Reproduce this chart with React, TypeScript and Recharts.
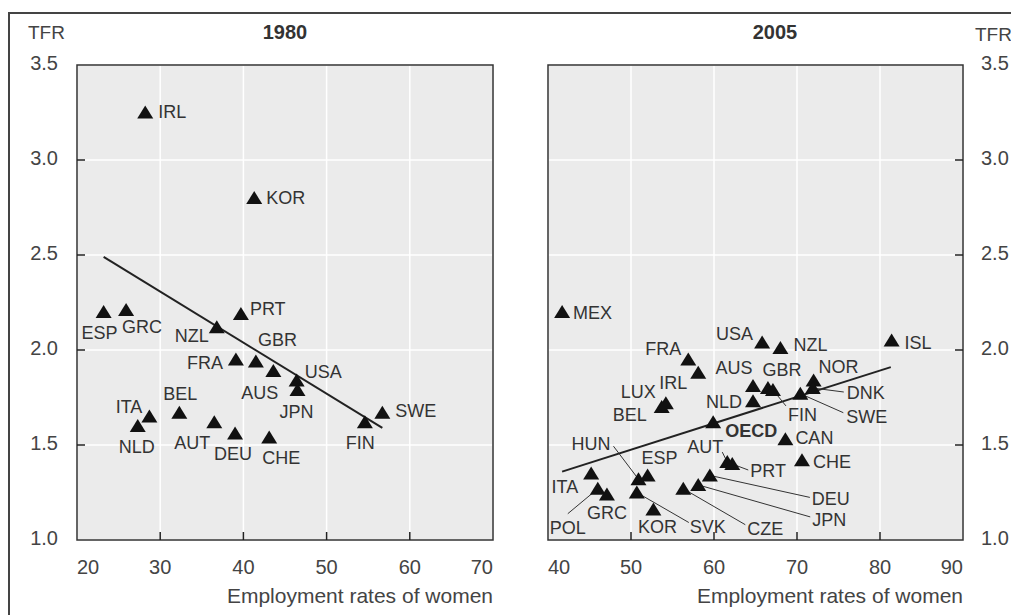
import { ScatterChart, Scatter, XAxis, YAxis, CartesianGrid, ReferenceArea, ReferenceLine } from 'recharts'

const FONT = '"Liberation Sans", Arial, sans-serif'

// 1980 panel
const codes1980 = ['IRL', 'KOR', 'ESP', 'GRC', 'NZL', 'PRT', 'GBR', 'FRA', 'AUS', 'USA', 'JPN', 'SWE', 'FIN', 'ITA', 'NLD', 'BEL', 'AUT', 'DEU', 'CHE']
const emp1980 = [28.2, 41.3, 23.2, 25.9, 36.8, 39.7, 41.5, 39.1, 43.6, 46.4, 46.5, 56.7, 54.6, 28.7, 27.3, 32.3, 36.5, 39.0, 43.1]
const tfr1980 = [3.25, 2.8, 2.2, 2.21, 2.12, 2.19, 1.94, 1.95, 1.89, 1.84, 1.79, 1.67, 1.62, 1.65, 1.6, 1.67, 1.62, 1.56, 1.54]
const trendX1980 = [23.2, 56.7]
const trendY1980 = [2.49, 1.59]

// 2005 panel
const codes2005 = ['MEX', 'USA', 'NZL', 'ISL', 'FRA', 'IRL', 'NOR', 'AUS', 'GBR', 'FIN', 'DNK', 'SWE', 'NLD', 'LUX', 'BEL', 'OECD', 'CAN', 'CHE', 'AUT', 'PRT', 'HUN', 'ESP', 'ITA', 'POL', 'GRC', 'KOR', 'SVK', 'CZE', 'JPN', 'DEU']
const emp2005 = [41.7, 65.8, 68.0, 81.4, 56.9, 58.1, 72.0, 64.7, 66.5, 67.1, 71.9, 70.4, 64.7, 53.7, 54.2, 59.9, 68.6, 70.6, 61.6, 62.2, 50.9, 52.0, 45.2, 46.0, 47.1, 52.7, 50.7, 56.3, 58.1, 59.5]
const tfr2005 = [2.2, 2.04, 2.01, 2.05, 1.95, 1.88, 1.84, 1.81, 1.8, 1.79, 1.8, 1.77, 1.73, 1.7, 1.72, 1.62, 1.53, 1.42, 1.41, 1.4, 1.32, 1.34, 1.35, 1.27, 1.24, 1.16, 1.25, 1.27, 1.29, 1.34]
const trendX2005 = [41.7, 81.3]
const trendY2005 = [1.36, 1.91]

const xTicks1980 = [20, 30, 40, 50, 60, 70]
const xTicks2005 = [40, 50, 60, 70, 80, 90]
const yTicks = [1.0, 1.5, 2.0, 2.5, 3.0, 3.5]

type Anchor = 'start' | 'middle' | 'end'
// label offset from the marker: dx, dy, anchor, optional leader end
type LabelPos = [number, number, Anchor, number?, number?]

const labels1980: Record<string, LabelPos> = {
  IRL: [13, -1, 'start'],
  KOR: [12, 0, 'start'],
  ESP: [-4, 21, 'middle'],
  GRC: [16, 17, 'middle'],
  NZL: [-8, 8, 'end'],
  PRT: [9, -5, 'start'],
  GBR: [2, -22, 'start'],
  FRA: [-13, 3, 'end'],
  AUS: [5, 22, 'end'],
  USA: [8, -9, 'start'],
  JPN: [-1, 22, 'middle'],
  SWE: [13, -2, 'start'],
  FIN: [10, 20, 'end'],
  ITA: [-7, -10, 'end'],
  NLD: [-1, 21, 'middle'],
  BEL: [1, -19, 'middle'],
  AUT: [-4, 20, 'end'],
  DEU: [-2, 20, 'middle'],
  CHE: [12, 20, 'middle'],
}

const labels2005: Record<string, LabelPos> = {
  MEX: [11, 1, 'start'],
  USA: [-9, -9, 'end'],
  NZL: [13, -3, 'start'],
  ISL: [13, 2, 'start'],
  FRA: [-7, -11, 'end'],
  IRL: [-11, 10, 'end'],
  AUS: [-19, -18, 'middle'],
  GBR: [14, -18, 'middle'],
  NOR: [5, -14, 'start'],
  LUX: [-6, -15, 'end'],
  BEL: [-19, 11, 'end'],
  NLD: [-11, 0, 'end'],
  FIN: [15, 25, 'start', 13, 16],
  DNK: [34, 5, 'start', 31, 4],
  SWE: [46, 23, 'start', 43, 19],
  OECD: [12, 8, 'start'],
  CAN: [10, -2, 'start'],
  CHE: [11, 1, 'start'],
  AUT: [-4, -15, 'end', -5, -10],
  PRT: [18, 7, 'start', 16, 6],
  HUN: [-28, -36, 'end', -25, -33],
  ESP: [12, -18, 'middle'],
  ITA: [-13, 13, 'end'],
  POL: [-48, 39, 'start', -30, 25],
  GRC: [0, 18, 'middle'],
  KOR: [4, 17, 'middle'],
  SVK: [53, 34, 'start', 52, 30],
  CZE: [64, 40, 'start', 62, 36],
  JPN: [114, 35, 'start', 112, 32],
  DEU: [102, 23, 'start', 100, 22],
}

const toPoints = (codes: string[], xs: number[], ys: number[]) =>
  codes.map((code, i) => ({ code, x: xs[i], y: ys[i] }))

const makeShape = (layout: Record<string, LabelPos>) => (props: any) => {
  const { cx, cy, payload } = props
  const [dx, dy, anchor, lx, ly] = layout[payload.code] || [10, 0, 'start']
  return (
    <g>
      {lx !== undefined && (
        <line x1={cx} y1={cy} x2={cx + lx} y2={cy + (ly as number)} stroke="#333" strokeWidth={1} />
      )}
      <path d={`M${cx - 8},${cy + 6} L${cx + 8},${cy + 6} L${cx},${cy - 7} Z`} fill="#111" />
      <text
        x={cx + dx}
        y={cy + dy}
        dy="0.35em"
        textAnchor={anchor}
        fontSize={18}
        fontFamily={FONT}
        fontWeight={payload.code === 'OECD' ? 700 : 400}
        fill="#333"
      >
        {payload.code}
      </text>
    </g>
  )
}

const makeYTick = (side: 'left' | 'right') => (props: any) => {
  const { x, y, payload } = props
  const v = payload.value as number
  const dir = side === 'left' ? 1 : -1
  return (
    <g>
      {v > 1 && v < 3.5 && <line x1={x} x2={x + dir * 8} y1={y} y2={y} stroke="#222" strokeWidth={1.5} />}
      <text
        x={side === 'left' ? x - 19 : x + 18}
        y={y - 2}
        dy="0.35em"
        textAnchor={side === 'left' ? 'end' : 'start'}
        fontSize={20}
        fontFamily={FONT}
        fill="#444"
      >
        {v.toFixed(1)}
      </text>
    </g>
  )
}

const makeXTick = (count: number) => (props: any) => {
  const { x, y, payload, index } = props
  const anchor = index === 0 ? 'start' : index === count - 1 ? 'end' : 'middle'
  return (
    <g>
      {index > 0 && index < count - 1 && <line x1={x} x2={x} y1={y} y2={y - 8} stroke="#222" strokeWidth={1.5} />}
      <text x={x} y={y + 27} dy="0.35em" textAnchor={anchor} fontSize={20} fontFamily={FONT} fill="#444">
        {payload.value}
      </text>
    </g>
  )
}

interface PanelProps {
  points: { code: string; x: number; y: number }[]
  xTicks: number[]
  trendX: number[]
  trendY: number[]
  layout: Record<string, LabelPos>
  side: 'left' | 'right'
  width: number
  margin: { top: number; right: number; bottom: number; left: number }
}

function Panel({ points, xTicks, trendX, trendY, layout, side, width, margin }: PanelProps) {
  const x0 = xTicks[0]
  const x1 = xTicks[xTicks.length - 1]
  return (
    <ScatterChart width={width} height={600} margin={margin}>
      <CartesianGrid fill="#ebebeb" stroke="#fff" strokeWidth={1.5} />
      <XAxis
        type="number"
        dataKey="x"
        domain={[x0, x1]}
        ticks={xTicks}
        axisLine={false}
        tickLine={false}
        tickSize={0}
        tickMargin={0}
        height={60}
        tick={makeXTick(xTicks.length)}
      />
      <YAxis
        type="number"
        dataKey="y"
        domain={[1, 3.5]}
        ticks={yTicks}
        orientation={side}
        axisLine={false}
        tickLine={false}
        tickSize={0}
        tickMargin={0}
        width={side === 'left' ? 69 : 56}
        tick={makeYTick(side)}
      />
      <ReferenceArea x1={x0} x2={x1} y1={1} y2={3.5} fill="none" fillOpacity={0} stroke="#333" strokeWidth={1.5} />
      <ReferenceLine
        segment={[
          { x: trendX[0], y: trendY[0] },
          { x: trendX[1], y: trendY[1] },
        ]}
        stroke="#222"
        strokeWidth={2}
        ifOverflow="visible"
      />
      <Scatter data={points} shape={makeShape(layout)} isAnimationActive={false} />
    </ScatterChart>
  )
}

const textBase = { position: 'absolute' as const, fontFamily: FONT, whiteSpace: 'nowrap' as const }

export default function App() {
  return (
    <div style={{ position: 'relative', width: 1011, height: 607, overflow: 'hidden' }}>
      <div
        style={{
          position: 'absolute',
          left: 0,
          top: 4,
          width: 1020,
          height: 620,
          borderLeft: '2px solid #444',
          borderTop: '2px solid #444',
        }}
      />
      <div style={{ position: 'absolute', left: 0, top: 0 }}>
        <Panel
          points={toPoints(codes1980, emp1980, tfr1980)}
          xTicks={xTicks1980}
          trendX={trendX1980}
          trendY={trendY1980}
          layout={labels1980}
          side="left"
          width={500}
          margin={{ top: 57, right: 15, bottom: 8, left: 0 }}
        />
      </div>
      <div style={{ position: 'absolute', left: 520, top: 0 }}>
        <Panel
          points={toPoints(codes2005, emp2005, tfr2005)}
          xTicks={xTicks2005}
          trendX={trendX2005}
          trendY={trendY2005}
          layout={labels2005}
          side="right"
          width={491}
          margin={{ top: 57, right: 0, bottom: 8, left: 20 }}
        />
      </div>
      <div style={{ ...textBase, left: 0, width: 554, top: 14, textAlign: 'center', fontSize: 20, lineHeight: '20px', fontWeight: 700, color: '#333' }}>
        1980
      </div>
      <div style={{ ...textBase, left: 520, width: 494, top: 14, textAlign: 'center', fontSize: 20, lineHeight: '20px', fontWeight: 700, color: '#333' }}>
        2005
      </div>
      <div style={{ ...textBase, left: 20, top: 15, fontSize: 19, lineHeight: '20px', color: '#444' }}>TFR</div>
      <div style={{ ...textBase, left: 967, top: 17, fontSize: 19, lineHeight: '20px', color: '#444' }}>TFR</div>
      <div style={{ ...textBase, right: 1011 - 485, top: 577, fontSize: 21, lineHeight: '21px', color: '#444' }}>
        Employment rates of women
      </div>
      <div style={{ ...textBase, right: 1011 - 955, top: 577, fontSize: 21, lineHeight: '21px', color: '#444' }}>
        Employment rates of women
      </div>
    </div>
  )
}
